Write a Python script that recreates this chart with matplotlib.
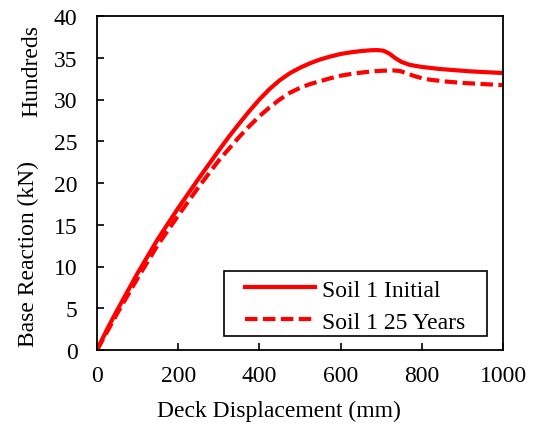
import matplotlib
matplotlib.use("Agg")
import matplotlib.pyplot as plt
from matplotlib.patches import Rectangle

# Deck displacement (mm) and base reaction (hundreds of kN)
disp = [0, 25, 50, 75, 100, 150, 200, 250, 300, 325, 350, 375, 400, 425,
        450, 475, 500, 525, 550, 575, 600, 625, 650, 675, 690, 705, 720,
        735, 750, 770, 800, 845, 919, 1000]
soil1_initial = [0, 2.5, 4.8, 7.0, 9.2, 13.3, 17.0, 20.5, 23.9, 25.55, 27.1,
                 28.6, 30.0, 31.25, 32.3, 33.15, 33.8, 34.35, 34.8, 35.15,
                 35.45, 35.65, 35.8, 35.9, 35.92, 35.85, 35.5, 34.95, 34.5,
                 34.15, 33.9, 33.65, 33.37, 33.17]

disp_25 = [0, 50, 100, 150, 200, 250, 300, 325, 350, 375, 400, 425, 450,
           475, 500, 525, 550, 575, 600, 625, 656, 680, 705, 730, 746, 762,
           779, 800, 820, 860, 902, 950, 1000]
soil1_25years = [0, 4.4, 8.6, 12.6, 16.1, 19.5, 22.7, 24.1, 25.5, 26.8, 28.0,
                 29.05, 30.0, 30.8, 31.4, 31.85, 32.2, 32.55, 32.85, 33.05,
                 33.25, 33.38, 33.45, 33.48, 33.42, 33.15, 32.85, 32.55, 32.37,
                 32.15, 31.98, 31.85, 31.72]

x_ticks = [0, 200, 400, 600, 800, 1000]
y_ticks = [0, 5, 10, 15, 20, 25, 30, 35, 40]

plt.rcParams["font.family"] = ["Liberation Serif", "DejaVu Serif"]
FS = 17
FS_LABEL = 17

fig = plt.figure(figsize=(5.35, 4.31), dpi=100)
ax = fig.add_axes([97 / 535, 1 - 351 / 431, 406 / 535, 334 / 431])

red = "#ff0000"
ax.plot(disp, soil1_initial, color=red, lw=3.0, label="Soil 1 Initial",
        solid_joinstyle="round")
ax.plot(disp_25, soil1_25years, color=red, lw=3.0, dashes=(3.0, 1.3),
        dash_joinstyle="round", label="Soil 1 25 Years")

ax.set_xlim(0, 1000)
ax.set_ylim(0, 40)
ax.set_xticks(x_ticks)
ax.set_yticks(y_ticks)
ax.tick_params(axis="both", direction="in", length=5, width=1.2,
               labelsize=FS, colors="black")
ax.tick_params(axis="x", pad=11)
ax.tick_params(axis="y", pad=14)
for s in ax.spines.values():
    s.set_linewidth(1.3)

ax.set_xlabel("Deck Displacement (mm)", fontsize=FS_LABEL)
ax.xaxis.set_label_coords(0.448, -0.148)
ax.set_ylabel("Base Reaction (kN)", fontsize=FS_LABEL)
ax.yaxis.set_label_coords(-0.143, 0.289)
fig.text(32 / 535, 1 - 71 / 431, "Hundreds", rotation=90, fontsize=FS_LABEL,
         ha="center", va="center")

# legend box drawn separately so its padding can be wider than tall
box = Rectangle((224 / 535, 1 - 337 / 431), 263 / 535, 65 / 431,
                transform=fig.transFigure, facecolor="white",
                edgecolor="black", linewidth=1.2, zorder=4, clip_on=False)
ax.add_patch(box)
leg = ax.legend(loc="upper left", bbox_to_anchor=(245 / 535, 1 - 280 / 431),
                bbox_transform=fig.transFigure, fontsize=FS, frameon=False,
                handlelength=2.97, handletextpad=0.3, borderpad=0,
                labelspacing=0.45, borderaxespad=0)
leg.set_zorder(5)

fig.savefig("out.png", dpi=100)
